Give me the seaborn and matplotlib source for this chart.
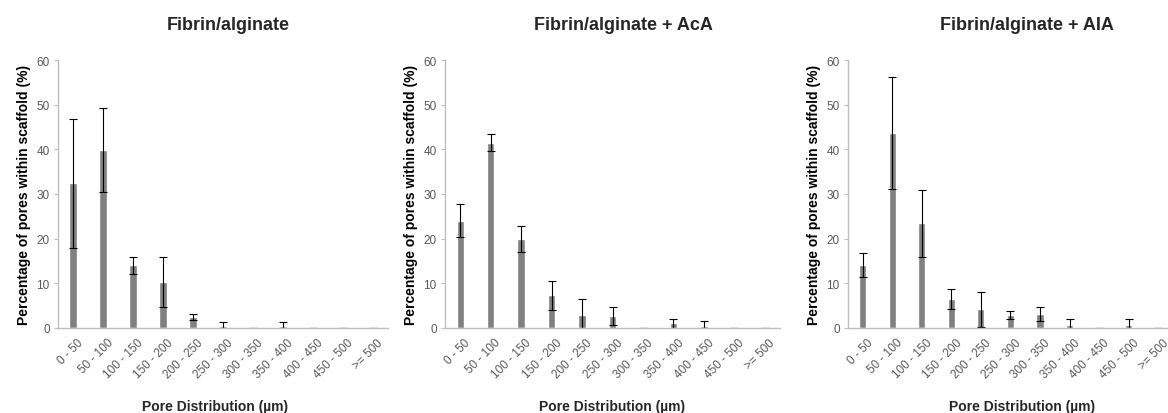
import numpy as np
import pandas as pd
import matplotlib
matplotlib.use("Agg")
import matplotlib.pyplot as plt
import matplotlib.transforms as mtrans
import seaborn as sns

# pore size bins
categories = ["0 - 50", "50 - 100", "100 - 150", "150 - 200", "200 - 250",
              "250 - 300", "300 - 350", "350 - 400", "400 - 450", "450 - 500", ">= 500"]

titles = ["Fibrin/alginate", "Fibrin/alginate + AcA", "Fibrin/alginate + AIA"]

# mean percentage of pores per bin
fa_mean = [32.4, 39.8, 14.0, 10.2, 2.4, 0.4, 0.0, 0.4, 0.0, 0.0, 0.0]
aca_mean = [24.0, 41.5, 19.9, 7.3, 3.0, 2.7, 0.0, 1.1, 0.4, 0.0, 0.0]
aia_mean = [14.1, 43.7, 23.4, 6.5, 4.2, 3.0, 3.1, 0.6, 0.0, 0.6, 0.0]

# standard deviation
fa_err = [14.5, 9.4, 1.9, 5.6, 0.7, 0.9, 0.0, 1.0, 0.0, 0.0, 0.0]
aca_err = [3.7, 1.9, 2.9, 3.3, 3.6, 2.1, 0.0, 1.0, 1.1, 0.0, 0.0]
aia_err = [2.6, 12.6, 7.4, 2.2, 3.9, 0.9, 1.5, 1.4, 0.0, 1.4, 0.0]

means = [fa_mean, aca_mean, aia_mean]
errs = [fa_err, aca_err, aia_err]

sns.set_style("white")
plt.rcParams["font.family"] = ["Liberation Sans", "DejaVu Sans"]

fig = plt.figure(figsize=(11.68, 4.14), dpi=100)

# axes boxes in pixels: left, width
boxes = [(58, 330), (445, 335), (848, 325)]
bottom_px, top_px = 329, 61
W, H = 1168, 414
title_x = [228, 623, 1027]
xlabel_x = [215, 612, 1022]

for i in range(3):
    left, width = boxes[i]
    ax = fig.add_axes([left / W, 1 - bottom_px / H, width / W, (bottom_px - top_px) / H])
    df = pd.DataFrame({"bin": categories, "pct": means[i]})
    sns.barplot(data=df, x="bin", y="pct", ax=ax, color="#808080",
                width=0.24, saturation=1, errorbar=None)
    ax.errorbar(np.arange(len(categories)), means[i], yerr=errs[i], fmt="none",
                ecolor="#000000", elinewidth=0.8, capsize=3, capthick=0.8)

    ax.set_ylim(0, 60)
    ax.set_xlim(-0.5, len(categories) - 0.5)
    ax.set_yticks(range(0, 61, 10))
    ax.tick_params(axis="y", labelsize=8.5, labelcolor="#595959", length=3,
                   color="#bfbfbf", direction="out", left=True, pad=3)
    ax.tick_params(axis="x", labelsize=8.5, labelcolor="#595959", length=0,
                   bottom=False, pad=6)
    ax.set_xticks(range(len(categories)))
    ax.set_xticklabels(categories, rotation=45, ha="right", rotation_mode="anchor")
    shift = mtrans.ScaledTranslation(3 / 72, 0, fig.dpi_scale_trans)
    for lab in ax.get_xticklabels():
        lab.set_transform(lab.get_transform() + shift)

    for s in ["top", "right"]:
        ax.spines[s].set_visible(False)
    for s in ["left", "bottom"]:
        ax.spines[s].set_color("#bfbfbf")
        ax.spines[s].set_linewidth(1)
        ax.spines[s].set_zorder(5)

    ax.set_ylabel("Percentage of pores within scaffold (%)", fontsize=10,
                  fontweight="bold", color="#000000", labelpad=4)
    ax.set_xlabel("")

    fig.text(title_x[i] / W, 1 - 25 / H, titles[i], ha="center", va="center",
             fontsize=13, fontweight="bold")
    fig.text(xlabel_x[i] / W, 1 - 407 / H, "Pore Distribution (\u00b5m)",
             ha="center", va="center", fontsize=10, fontweight="bold")

fig.savefig("out.png", dpi=100)
